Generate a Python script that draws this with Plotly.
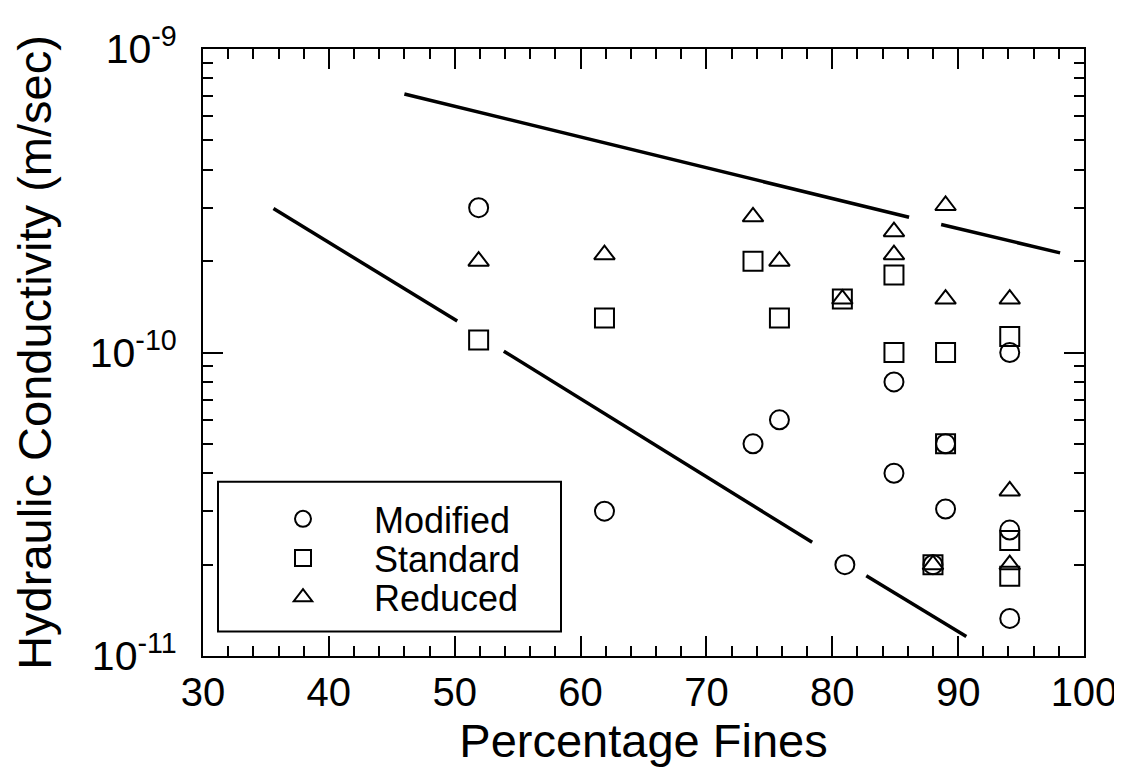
import plotly.graph_objects as go

FONT = "Liberation Sans, Arial, Helvetica, sans-serif"

# ---- data ----
mod_x = [51.9, 61.9, 73.7, 75.8, 81.0, 84.9, 84.9, 89.0, 89.0, 88.0, 94.1, 94.1, 94.1]
mod_y = [3.0e-10, 3.0e-11, 5.0e-11, 6.0e-11, 2.0e-11, 8.0e-11, 4.0e-11, 5.0e-11, 3.05e-11, 2.0e-11, 1.0e-10, 2.6e-11, 1.33e-11]

std_x = [51.9, 61.9, 73.7, 75.8, 80.8, 84.9, 84.9, 89.0, 89.0, 88.0, 94.1, 94.1, 94.1]
std_y = [1.1e-10, 1.3e-10, 2.0e-10, 1.3e-10, 1.5e-10, 1.8e-10, 1.0e-10, 1.0e-10, 5.0e-11, 2.0e-11, 1.13e-10, 2.4e-11, 1.83e-11]

red_x = [51.9, 61.9, 73.7, 75.8, 80.8, 84.9, 84.9, 89.0, 89.0, 88.0, 94.1, 94.1, 94.1]
red_y = [2.0e-10, 2.1e-10, 2.8e-10, 2.0e-10, 1.5e-10, 2.5e-10, 2.1e-10, 3.05e-10, 1.5e-10, 2.0e-11, 1.5e-10, 3.5e-11, 2.0e-11]

# bounding lines (segments broken where they pass markers)
upper_x = [46.0, 86.1, None, 88.65, 98.1]
upper_y = [7.11e-10, 2.79e-10, None, 2.64e-10, 2.13e-10]
lower_x = [35.6, 50.2, None, 53.9, 78.4, None, 82.7, 90.65]
lower_y = [2.98e-10, 1.27e-10, None, 1.01e-10, 2.37e-11, None, 1.84e-11, 1.16e-11]

series_names = ["Modified", "Standard", "Reduced"]
x_tick_vals = [30, 40, 50, 60, 70, 80, 90, 100]
y_tick_vals = [1e-11, 1e-10, 1e-9]
y_tick_text = ["10<sup>-11</sup>", "10<sup>-10</sup>", "10<sup>-9</sup>"]
y_minor_vals = [2e-11, 3e-11, 4e-11, 5e-11, 6e-11, 7e-11, 8e-11, 9e-11,
                2e-10, 3e-10, 4e-10, 5e-10, 6e-10, 7e-10, 8e-10, 9e-10]

fig = go.Figure()

fig.add_trace(go.Scatter(x=upper_x, y=upper_y, mode="lines",
                         line=dict(color="black", width=3.5), showlegend=False, hoverinfo="skip"))
fig.add_trace(go.Scatter(x=lower_x, y=lower_y, mode="lines",
                         line=dict(color="black", width=3.5), showlegend=False, hoverinfo="skip"))

mk_line = dict(color="black", width=2)
fig.add_trace(go.Scatter(x=mod_x, y=mod_y, mode="markers", name=series_names[0], legend="legend",
                         marker=dict(symbol="circle-open", size=19, color="black", line=mk_line)))
fig.add_trace(go.Scatter(x=std_x, y=std_y, mode="markers", name=series_names[1], legend="legend2",
                         marker=dict(symbol="square-open", size=19, color="black", line=mk_line)))
fig.add_trace(go.Scatter(x=red_x, y=red_y, mode="markers", name=series_names[2], legend="legend3",
                         marker=dict(symbol="triangle-up-open", size=18, color="black", line=mk_line)))

L, R, T, B = 195, 46, 28, 120
W, H = 1122, 768
pw, ph = W - L - R, H - T - B

def px(xp):
    return (xp - L) / pw

def py(yp):
    return 1 - (yp - T) / ph

fig.add_shape(type="rect", xref="paper", yref="paper",
              x0=px(210), x1=px(553), y0=py(623), y1=py(470),
              line=dict(color="black", width=2), fillcolor="white", layer="below")

def leg(yc):
    return dict(x=px(224), y=py(yc), xanchor="left", yanchor="middle",
                bgcolor="rgba(0,0,0,0)", borderwidth=0,
                font=dict(size=36, family=FONT, color="black"),
                itemwidth=132)

fig.update_layout(
    width=W, height=H,
    margin=dict(l=L, r=R, t=T, b=B),
    paper_bgcolor="white", plot_bgcolor="white",
    font=dict(family=FONT, color="black"),
    showlegend=True,
    legend=leg(508), legend2=leg(548), legend3=leg(588),
)

fig.update_xaxes(
    range=[30, 100], tickvals=x_tick_vals, ticklabeloverflow="allow",
    ticks="inside", ticklen=20, tickwidth=2, tickcolor="black",
    minor=dict(dtick=2, tick0=30, ticks="inside", ticklen=10, tickwidth=1.5, tickcolor="black", showgrid=False),
    showline=True, linewidth=2, linecolor="black", mirror="ticks",
    showgrid=False, zeroline=False,
    tickfont=dict(size=40, family=FONT, color="black"),
    title=dict(text="Percentage Fines", font=dict(size=47, family=FONT, color="black"), standoff=8),
)

fig.update_yaxes(
    type="log", range=[-11, -9], tickvals=y_tick_vals, ticktext=y_tick_text, ticklabeloverflow="allow",
    ticks="inside", ticklen=20, tickwidth=2, tickcolor="black", ticklabelstandoff=16,
    minor=dict(tickvals=y_minor_vals, ticks="inside", ticklen=10, tickwidth=1.5, tickcolor="black", showgrid=False),
    showline=True, linewidth=2, linecolor="black", mirror="ticks",
    showgrid=False, zeroline=False,
    tickfont=dict(size=41, family=FONT, color="black"),
    title=dict(text="Hydraulic Conductivity (m/sec)", font=dict(size=47, family=FONT, color="black"), standoff=36),
)

fig.write_html("out.html")
